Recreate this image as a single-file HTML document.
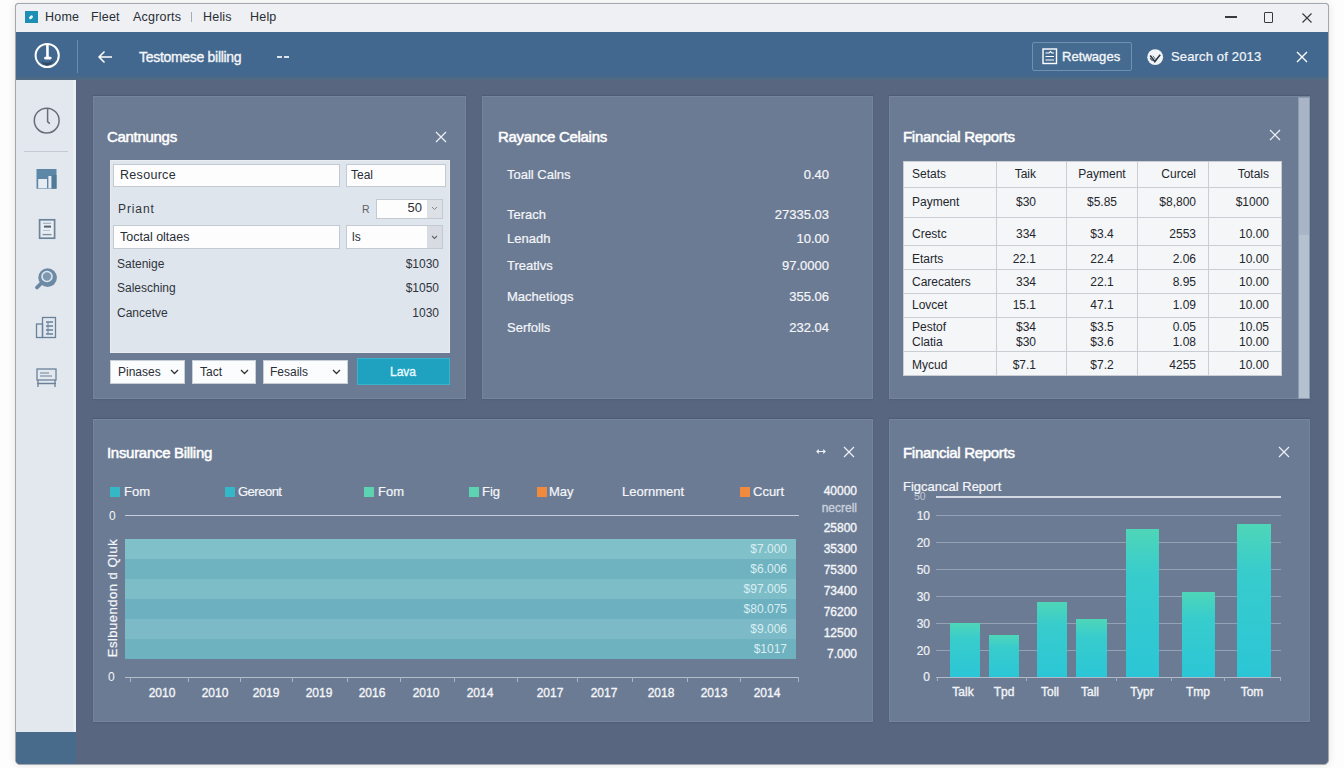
<!DOCTYPE html>
<html><head><meta charset="utf-8">
<style>
*{margin:0;padding:0;box-sizing:border-box}
html,body{width:1344px;height:768px;overflow:hidden;background:#fdfdfd;font-family:"Liberation Sans",sans-serif}
.a{position:absolute}
.t{position:absolute;white-space:nowrap;line-height:20px;height:20px}
#win{position:absolute;left:15px;top:3px;width:1314px;height:762px;border:1px solid #a2a7ad;border-radius:3px 3px 5px 5px;overflow:hidden;background:#58667f;box-shadow:0 0 8px rgba(0,0,0,0.10)}
#titlebar{left:0;top:0;width:1314px;height:28px;background:#eef0f3}
#header{left:0;top:28px;width:1314px;height:48px;background:linear-gradient(180deg,#42688f 0,#42688f 43px,#4a6b88 46px,#56677f 48px)}
#side{left:0;top:76px;width:60px;height:652px;background:#e3e8ef;border-right:3px solid #ebeff5}
#sidebot{left:0;top:728px;width:60px;height:34px;background:#486b8b}
.panel{position:absolute;background:#6c7b94;border:1px solid #76849c;box-shadow:0 -1px 1px rgba(40,50,70,0.18),0 1px 1px rgba(40,50,70,0.12)}
.ptitle{color:#fff;font-size:15px;letter-spacing:-0.3px;-webkit-text-stroke:0.5px #fff !important}
.wt{color:#f4f6f9}
.sb{-webkit-text-stroke:0.35px currentColor}
.dk{color:#2a2e35}
.dk2{color:#2f343c}
.f10{font-size:10px}.f12{font-size:12px}.f13{font-size:13px}
.inp{background:#fdfdfe;border:1px solid #c3cad3}
.btn{background:#fbfcfd;border:1px solid #c9d0d8}
.tb{border-collapse:collapse;background:#f5f6f8;font-size:12px;color:#23272d;table-layout:fixed}
.tb td{border:1px solid #c9ced5;padding:0 8px;white-space:nowrap;line-height:15px}
.tb td.r{text-align:right;padding-right:12px}
.tb td.r2{text-align:right;padding-right:30px}
.tb td.c{text-align:center}
.tb tr.p5 td{padding-top:5px}.tb tr.p3 td{padding-top:3px}.tb tr.p1 td{padding-top:1px}.tb tr.p4 td{padding-top:4px}
.lg{width:10px;height:10px}
.sb2{-webkit-text-stroke:0.2px currentColor}
.bv{width:100px;text-align:right;color:#d9eef2;font-size:12px}
.rl{left:757px;width:100px;text-align:right;color:#f4f6f9;font-size:12px;-webkit-text-stroke:0.35px currentColor}
.yr{top:682.5px;width:40px;text-align:center;color:#f4f6f9;font-size:12px;-webkit-text-stroke:0.35px currentColor}
.gl{left:936px;width:345px;height:1.3px;background:#95a2b5}
.yl{left:900px;width:30px;text-align:right;color:#eef1f5;font-size:12px;-webkit-text-stroke:0.2px currentColor}
.xl{top:682px;width:60px;text-align:center;color:#f2f5f8;font-size:12px;-webkit-text-stroke:0.35px currentColor}
.bar{background:linear-gradient(180deg,#4fd6b8 0%,#38cccc 30%,#2bc6d6 100%)}
.chev path{stroke:#333;stroke-width:1.3;fill:none}
</style></head><body>
<div id="win">
  <div class="a" id="titlebar"></div>
  <div class="a" id="header"></div>
  <div class="a" id="side"></div>
  <div class="a" id="sidebot"></div>
</div>

<!-- title bar -->
<div class="a" style="left:25px;top:11px;width:13px;height:12px;background:#1d8fb5"></div>
<svg class="a" style="left:25px;top:11px" width="13" height="12"><ellipse cx="6" cy="6.3" rx="2.2" ry="1.5" transform="rotate(-40 6 6.3)" fill="#e8f6fb"/></svg>
<div class="t dk" style="left:45px;top:7px;font-size:12.5px;letter-spacing:0.2px">Home</div>
<div class="t dk" style="left:91px;top:7px;font-size:12.5px;letter-spacing:0.2px">Fleet</div>
<div class="t dk" style="left:133px;top:7px;font-size:12.5px;letter-spacing:0.2px">Acgrorts</div>
<div class="a" style="left:191px;top:12px;width:1px;height:10px;background:#a6abb2"></div>
<div class="t dk" style="left:203px;top:7px;font-size:12.5px;letter-spacing:0.2px">Helis</div>
<div class="t dk" style="left:250px;top:7px;font-size:12.5px;letter-spacing:0.2px">Help</div>
<div class="a" style="left:1225px;top:16.3px;width:11.5px;height:1.6px;background:#3a3a3a"></div>
<div class="a" style="left:1263.7px;top:12px;width:9.8px;height:10.8px;border:1.3px solid #3a3a3a;border-radius:1px"></div>
<svg class="a" style="left:1302px;top:12.5px" width="10" height="10"><path d="M0.5 0.5L9.5 9.5M9.5 0.5L0.5 9.5" stroke="#3a3a3a" stroke-width="1.2"/></svg>

<!-- header -->
<svg class="a" style="left:33px;top:42px" width="29" height="29">
  <circle cx="14.2" cy="13.5" r="11.6" fill="none" stroke="#fff" stroke-width="2"/>
  <path d="M8.2 19.2Q14 22.5 20.2 18.8Q18.5 23.2 14 23.6Q10 23.2 8.2 19.2Z" fill="#2c4560" opacity="0.85"/>
  <path d="M14.4 2.5L14.5 15.5" stroke="#fff" stroke-width="2.6"/>
  <path d="M12.4 16.1H17.3" stroke="#fff" stroke-width="2.7" stroke-linecap="round"/>
</svg>
<div class="a" style="left:77px;top:40px;width:1px;height:33px;background:#6d8cad"></div>
<svg class="a" style="left:97px;top:50px" width="16" height="14"><path d="M15 7H2M7.5 1.5L2 7L7.5 12.5" stroke="#fff" stroke-width="1.5" fill="none"/></svg>
<div class="t wt sb" style="left:139px;top:47px;font-size:14px;letter-spacing:-0.3px">Testomese billing</div>
<div class="a" style="left:277px;top:56px;width:4.5px;height:1.5px;background:#dce5ee"></div><div class="a" style="left:284px;top:56px;width:4.5px;height:1.5px;background:#dce5ee"></div>
<div class="a" style="left:1032px;top:42px;width:100px;height:29px;border:1px solid #7190b0;background:#456b91;border-radius:2px"></div>
<svg class="a" style="left:1042px;top:48px" width="16" height="17"><rect x="1" y="1" width="13.5" height="14.5" fill="none" stroke="#fff" stroke-width="1.4"/><path d="M3.5 5H7L8.5 3.5L10 5H12M3.5 8.5H12M3.5 12H12" stroke="#fff" stroke-width="1.2" fill="none"/></svg>
<div class="t wt sb" style="left:1062px;top:47px;font-size:13px;letter-spacing:0.05px">Retwages</div>
<svg class="a" style="left:1147px;top:49px" width="18" height="18"><circle cx="8.2" cy="8.2" r="7.9" fill="#f2f5f8"/><path d="M3.2 6.5L7.8 12.6L13.2 5.8" stroke="#2f3b48" stroke-width="1.6" fill="none"/><path d="M3 9.2L5.6 12" stroke="#4a5968" stroke-width="1.1" fill="none"/><path d="M6 6.8L8.5 10.5" stroke="#5a6876" stroke-width="1" fill="none"/></svg>
<div class="t wt sb2" style="left:1171px;top:47px;font-size:13px;letter-spacing:0.15px">Search of 2013</div>
<svg class="a" style="left:1296px;top:51px" width="12" height="12"><path d="M1 1L11 11M11 1L1 11" stroke="#fff" stroke-width="1.4"/></svg>

<!-- sidebar icons -->
<svg class="a" style="left:32px;top:106px" width="30" height="30">
  <circle cx="14.7" cy="14.6" r="12.4" fill="none" stroke="#666e78" stroke-width="1.5"/>
  <path d="M15.6 2.5V15.6L17.8 17.6" stroke="#666e78" stroke-width="1.5" fill="none"/>
</svg>
<div class="a" style="left:24px;top:151px;width:44px;height:1px;background:#c3cad4"></div>
<svg class="a" style="left:36px;top:169px" width="21" height="20">
  <rect x="0.5" y="0" width="20" height="19.7" fill="#5d87a6"/>
  <rect x="15.5" y="6" width="5" height="13.7" fill="#4f7a98"/>
  <rect x="2.2" y="10" width="8.8" height="9.2" fill="#e6ecf2"/>
  <rect x="12.4" y="7" width="3" height="12.2" fill="#e6ecf2"/>
</svg>
<svg class="a" style="left:38px;top:218px" width="19" height="22">
  <rect x="1.6" y="1.8" width="15" height="18.4" fill="#e9eef3" stroke="#6d8398" stroke-width="1.7"/>
  <path d="M5 5.3H13" stroke="#9db0c2" stroke-width="1.2"/>
  <path d="M6 8.6H13" stroke="#4f6378" stroke-width="2"/>
  <path d="M5 12.5H12" stroke="#b7c4d1" stroke-width="1"/>
  <path d="M4.5 16.6H13.5" stroke="#7f93a6" stroke-width="1.4"/>
</svg>
<svg class="a" style="left:33px;top:265px" width="28" height="26">
  <path d="M9 17.5L4 22.5" stroke="#6a87a2" stroke-width="3.8" stroke-linecap="round"/>
  <circle cx="14.6" cy="12.6" r="9.3" fill="#6d8aa5"/>
  <circle cx="14" cy="11.5" r="5" fill="#7f98b0" stroke="#dce7ef" stroke-width="1.6"/>
</svg>
<svg class="a" style="left:35px;top:316px" width="23" height="23">
  <rect x="1.5" y="8" width="6" height="13.5" fill="none" stroke="#68819a" stroke-width="1.3"/>
  <rect x="7.5" y="1.5" width="13" height="20" fill="none" stroke="#68819a" stroke-width="1.3"/>
  <path d="M11 6H18M11 10H18M11 14H18M11 18H18" stroke="#68819a" stroke-width="1.3"/>
  <path d="M13 6V18" stroke="#68819a" stroke-width="1"/>
</svg>
<svg class="a" style="left:35px;top:367px" width="23" height="22">
  <rect x="2" y="2" width="19" height="11" fill="none" stroke="#6b8299" stroke-width="1.3"/>
  <path d="M5 6H14M5 9H17" stroke="#6b8299" stroke-width="1.2"/>
  <path d="M3 13V20M20 13V20M2 16.5H21" stroke="#6b8299" stroke-width="1.3"/>
</svg>

<!-- panels (page coords) -->
<div class="panel" style="left:93px;top:96px;width:373px;height:303px"></div>
<div class="panel" style="left:482px;top:96px;width:391px;height:303px"></div>
<div class="panel" style="left:889px;top:96px;width:421px;height:303px"></div>
<div class="panel" style="left:93px;top:419px;width:780px;height:303px"></div>
<div class="panel" style="left:889px;top:419px;width:421px;height:303px"></div>

<!-- P1 -->
<div class="t ptitle sb" style="left:107px;top:127px">Cantnungs</div>
<svg class="a" style="left:435px;top:131px" width="12" height="12"><path d="M1 1L11 11M11 1L1 11" stroke="#eef1f5" stroke-width="1.2"/></svg>
<div class="a" style="left:110px;top:160px;width:340px;height:193px;background:#dfe5ec;border:1px solid #e9edf2"></div>
<div class="a inp" style="left:113px;top:164px;width:227px;height:23px"></div>
<div class="t dk f12" style="left:120px;top:165px;font-size:12.5px;letter-spacing:0.3px">Resource</div>
<div class="a inp" style="left:346px;top:164px;width:100px;height:23px"></div>
<div class="t dk f12" style="left:351px;top:165px">Teal</div>
<div class="t dk2 f12" style="left:118px;top:199px;font-size:12px;letter-spacing:0.9px">Priant</div>
<div class="t f10" style="left:362px;top:199px;color:#5d636b;font-size:10.5px">R</div>
<div class="a inp" style="left:376px;top:199px;width:67px;height:20px"></div>
<div class="a" style="left:427px;top:200px;width:15px;height:18px;background:#dde1e6"></div>
<div class="t dk f13" style="left:376px;top:198px;width:46px;text-align:right">50</div>
<svg class="a" style="left:431px;top:206px" width="7" height="5"><path d="M1 1L3.5 3.5L6 1" stroke="#888" stroke-width="1" fill="none"/></svg>
<div class="a inp" style="left:113px;top:225px;width:227px;height:24px"></div>
<div class="t dk f12" style="left:120px;top:227px;font-size:12.5px;letter-spacing:0px">Toctal oltaes</div>
<div class="a inp" style="left:346px;top:225px;width:97px;height:24px"></div>
<div class="a" style="left:427px;top:226px;width:15px;height:22px;background:#d8dce2"></div>
<div class="t dk f12" style="left:352px;top:227px">ls</div>
<svg class="a" style="left:431px;top:235px" width="7" height="5"><path d="M1 1L3.5 3.5L6 1" stroke="#666" stroke-width="1.1" fill="none"/></svg>
<div class="t dk2 f12" style="left:117px;top:254px">Satenige</div>
<div class="t dk2 f12" style="left:380px;top:254px;width:59px;text-align:right">$1030</div>
<div class="t dk2 f12" style="left:117px;top:278px">Salesching</div>
<div class="t dk2 f12" style="left:380px;top:278px;width:59px;text-align:right">$1050</div>
<div class="t dk2 f12" style="left:117px;top:303px">Cancetve</div>
<div class="t dk2 f12" style="left:380px;top:303px;width:59px;text-align:right">1030</div>
<div class="a btn" style="left:110px;top:360px;width:75px;height:24px"></div>
<div class="t dk f12" style="left:118px;top:362px">Pinases</div>
<svg class="a chev" style="left:170px;top:369px" width="9" height="6"><path d="M1 1L4.5 4.5L8 1"/></svg>
<div class="a btn" style="left:192px;top:360px;width:64px;height:24px"></div>
<div class="t dk f12" style="left:200px;top:362px">Tact</div>
<div class="a btn" style="left:263px;top:360px;width:85px;height:24px"></div>
<svg class="a chev" style="left:240px;top:369px" width="9" height="6"><path d="M1 1L4.5 4.5L8 1"/></svg>
<div class="t dk f12" style="left:270px;top:362px">Fesails</div>
<svg class="a chev" style="left:332px;top:369px" width="9" height="6"><path d="M1 1L4.5 4.5L8 1"/></svg>
<div class="a" style="left:357px;top:358px;width:93px;height:27px;background:#1ea2bf;border:1px solid #3bb2cc"></div>
<div class="t f12 sb" style="left:357px;top:362px;width:92px;text-align:center;color:#eafaff">Lava</div>

<!-- P2 -->
<div class="t ptitle sb" style="left:498px;top:127px">Rayance Celains</div>
<div class="t wt f13 sb2" style="left:507px;top:165px">Toall Calns</div>
<div class="t wt f13 sb2" style="left:729px;top:165px;width:100px;text-align:right">0.40</div>
<div class="t wt f13 sb2" style="left:507px;top:205px">Terach</div>
<div class="t wt f13 sb2" style="left:729px;top:205px;width:100px;text-align:right">27335.03</div>
<div class="t wt f13 sb2" style="left:507px;top:229px">Lenadh</div>
<div class="t wt f13 sb2" style="left:729px;top:229px;width:100px;text-align:right">10.00</div>
<div class="t wt f13 sb2" style="left:507px;top:256px">Treatlvs</div>
<div class="t wt f13 sb2" style="left:729px;top:256px;width:100px;text-align:right">97.0000</div>
<div class="t wt f13 sb2" style="left:507px;top:287px">Machetiogs</div>
<div class="t wt f13 sb2" style="left:729px;top:287px;width:100px;text-align:right">355.06</div>
<div class="t wt f13 sb2" style="left:507px;top:318px">Serfolls</div>
<div class="t wt f13 sb2" style="left:729px;top:318px;width:100px;text-align:right">232.04</div>

<!-- P3 -->
<div class="t ptitle sb" style="left:903px;top:127px">Financial Reports</div>
<svg class="a" style="left:1269px;top:129px" width="12" height="12"><path d="M1 1L11 11M11 1L1 11" stroke="#eef1f5" stroke-width="1.2"/></svg>
<div class="a" style="left:1298px;top:97px;width:12px;height:302px;background:#8d9bb0"></div>
<div class="a" style="left:1299px;top:98px;width:10px;height:137px;background:#a9b5c6"></div>
<div class="a" style="left:1299px;top:235px;width:10px;height:163px;background:#b6c1d0"></div>
<table class="a tb" style="left:903px;top:161px;width:378px;height:215px"><colgroup><col style="width:93px"><col style="width:70px"><col style="width:71px"><col style="width:71px"><col style="width:73px"></colgroup>
<tr style="height:26px"><td>Setats</td><td class="r2">Taik</td><td class="c">Payment</td><td class="r">Curcel</td><td class="r">Totals</td></tr>
<tr style="height:30px"><td>Payment</td><td class="r2">$30</td><td class="c">$5.85</td><td class="r">$8,800</td><td class="r">$1000</td></tr>
<tr style="height:28px" class="p5"><td>Crestc</td><td class="r2">334</td><td class="c">$3.4</td><td class="r">2553</td><td class="r">10.00</td></tr>
<tr style="height:24px" class="p3"><td>Etarts</td><td class="r2">22.1</td><td class="c">22.4</td><td class="r">2.06</td><td class="r">10.00</td></tr>
<tr style="height:24px" class="p1"><td>Carecaters</td><td class="r2">334</td><td class="c">22.1</td><td class="r">8.95</td><td class="r">10.00</td></tr>
<tr style="height:24px"><td>Lovcet</td><td class="r2">15.1</td><td class="c">47.1</td><td class="r">1.09</td><td class="r">10.00</td></tr>
<tr style="height:34px" class="dbl"><td>Pestof<br>Clatia</td><td class="r2">$34<br>$30</td><td class="c">$3.5<br>$3.6</td><td class="r">0.05<br>1.08</td><td class="r">10.05<br>10.00</td></tr>
<tr style="height:24px" class="p4"><td>Mycud</td><td class="r2">$7.1</td><td class="c">$7.2</td><td class="r">4255</td><td class="r">10.00</td></tr>
</table>

<!-- P4 -->
<div class="t ptitle sb" style="left:107px;top:443px">Insurance Billing</div>
<svg class="a" style="left:815px;top:448px" width="12" height="7"><path d="M2 3.5H10M3.8 1.7L2 3.5L3.8 5.3M8.2 1.7L10 3.5L8.2 5.3" stroke="#eef2f6" stroke-width="1.2" fill="none"/></svg>
<svg class="a" style="left:843px;top:446px" width="12" height="12"><path d="M1 1L11 11M11 1L1 11" stroke="#eef1f5" stroke-width="1.2"/></svg>
<div class="a lg" style="left:110px;top:487px;background:#34b7c7"></div><div class="t wt f13 sb2" style="left:124px;top:482px">Fom</div>
<div class="a lg" style="left:225px;top:487px;background:#34b7c7"></div><div class="t wt f13 sb2" style="left:238px;top:482px;letter-spacing:-0.5px">Gereont</div>
<div class="a lg" style="left:364px;top:487px;background:#5ed3b2"></div><div class="t wt f13 sb2" style="left:378px;top:482px">Fom</div>
<div class="a lg" style="left:469px;top:487px;background:#5ed3b2"></div><div class="t wt f13 sb2" style="left:482px;top:482px">Fig</div>
<div class="a lg" style="left:537px;top:487px;background:#f08a3c"></div><div class="t wt f13 sb2" style="left:549px;top:482px">May</div>
<div class="t wt f13 sb2" style="left:622px;top:482px">Leornment</div>
<div class="a lg" style="left:740px;top:487px;background:#f08a3c"></div><div class="t wt f13 sb2" style="left:753px;top:482px">Ccurt</div>
<div class="t wt f12" style="left:109px;top:506px">0</div>
<div class="a" style="left:125px;top:515px;width:674px;height:1px;background:#c5cdd8"></div>
<div class="a" style="left:125px;top:539px;width:671px;height:20px;background:#80c0c8"></div>
<div class="a" style="left:125px;top:559px;width:671px;height:20px;background:#6fb2c0"></div>
<div class="a" style="left:125px;top:579px;width:671px;height:20px;background:#7dbdc8"></div>
<div class="a" style="left:125px;top:599px;width:671px;height:20px;background:#6db0bf"></div>
<div class="a" style="left:125px;top:619px;width:671px;height:20px;background:#7bbac6"></div>
<div class="a" style="left:125px;top:639px;width:671px;height:20px;background:#6eb1bf"></div>
<div class="t bv" style="left:687px;top:539px">$7.000</div>
<div class="t bv" style="left:687px;top:559px">$6.006</div>
<div class="t bv" style="left:687px;top:579px">$97.005</div>
<div class="t bv" style="left:687px;top:599px">$80.075</div>
<div class="t bv" style="left:687px;top:619px">$9.006</div>
<div class="t bv" style="left:687px;top:639px">$1017</div>
<div class="t rl" style="top:481px">40000</div>
<div class="t rl" style="top:498px;color:#c9d1dc">necrell</div>
<div class="t rl" style="top:518px">25800</div>
<div class="t rl" style="top:539px">35300</div>
<div class="t rl" style="top:560px">75300</div>
<div class="t rl" style="top:581px">73400</div>
<div class="t rl" style="top:602px">76200</div>
<div class="t rl" style="top:623px">12500</div>
<div class="t rl" style="top:644px">7.000</div>
<div class="a" style="left:103px;top:536px;width:20px;height:124px;overflow:hidden"><div class="a wt f12 sb2" style="left:-52px;top:52px;width:124px;height:20px;line-height:20px;text-align:center;transform:rotate(-90deg);font-size:13px;letter-spacing:0.5px">Eslbuendon d Qluk</div></div>
<div class="t wt f12" style="left:108px;top:667px">0</div>
<div class="a" style="left:125px;top:677px;width:674px;height:1.2px;background:#b3bdcb"></div>
<div class="a" style="left:130px;top:677px;width:1px;height:5px;background:#aab5c4"></div><div class="a" style="left:188px;top:677px;width:1px;height:5px;background:#aab5c4"></div><div class="a" style="left:240px;top:677px;width:1px;height:5px;background:#aab5c4"></div><div class="a" style="left:292px;top:677px;width:1px;height:5px;background:#aab5c4"></div><div class="a" style="left:347px;top:677px;width:1px;height:5px;background:#aab5c4"></div><div class="a" style="left:400px;top:677px;width:1px;height:5px;background:#aab5c4"></div><div class="a" style="left:454px;top:677px;width:1px;height:5px;background:#aab5c4"></div><div class="a" style="left:517px;top:677px;width:1px;height:5px;background:#aab5c4"></div><div class="a" style="left:577px;top:677px;width:1px;height:5px;background:#aab5c4"></div><div class="a" style="left:632px;top:677px;width:1px;height:5px;background:#aab5c4"></div><div class="a" style="left:687px;top:677px;width:1px;height:5px;background:#aab5c4"></div><div class="a" style="left:740px;top:677px;width:1px;height:5px;background:#aab5c4"></div><div class="a" style="left:798px;top:677px;width:1px;height:5px;background:#aab5c4"></div>
<div class="t yr" style="left:142px">2010</div>
<div class="t yr" style="left:195px">2010</div>
<div class="t yr" style="left:246px">2019</div>
<div class="t yr" style="left:299px">2019</div>
<div class="t yr" style="left:352px">2016</div>
<div class="t yr" style="left:406px">2010</div>
<div class="t yr" style="left:460px">2014</div>
<div class="t yr" style="left:530px">2017</div>
<div class="t yr" style="left:584px">2017</div>
<div class="t yr" style="left:641px">2018</div>
<div class="t yr" style="left:694px">2013</div>
<div class="t yr" style="left:747px">2014</div>

<!-- P5 -->
<div class="t ptitle sb" style="left:903px;top:443px">Financial Reports</div>
<svg class="a" style="left:1278px;top:446px" width="12" height="12"><path d="M1 1L11 11M11 1L1 11" stroke="#eef1f5" stroke-width="1.2"/></svg>
<div class="t" style="left:914px;top:486px;font-size:10.5px;color:rgba(245,248,250,0.6)">50</div>
<div class="t wt f13 sb2" style="left:903px;top:477px">Figcancal Report</div>
<div class="a" style="left:936px;top:496px;width:345px;height:1.5px;background:#d3d9e2"></div>
<div class="a gl" style="top:515px"></div>
<div class="a gl" style="top:542px"></div>
<div class="a gl" style="top:569px"></div>
<div class="a gl" style="top:596px"></div>
<div class="a gl" style="top:623px"></div>
<div class="a gl" style="top:650px"></div>
<div class="a gl" style="top:677px;background:#b1bbc9"></div><div class="a" style="left:937px;top:677px;width:1px;height:4px;background:#a3aebe"></div><div class="a" style="left:1026px;top:677px;width:1px;height:4px;background:#a3aebe"></div><div class="a" style="left:1116px;top:677px;width:1px;height:4px;background:#a3aebe"></div><div class="a" style="left:1171px;top:677px;width:1px;height:4px;background:#a3aebe"></div><div class="a" style="left:1224px;top:677px;width:1px;height:4px;background:#a3aebe"></div><div class="a" style="left:1280px;top:677px;width:1px;height:4px;background:#a3aebe"></div>
<div class="t yl" style="top:506px">10</div>
<div class="t yl" style="top:533px">20</div>
<div class="t yl" style="top:560px">50</div>
<div class="t yl" style="top:587px">30</div>
<div class="t yl" style="top:614px">30</div>
<div class="t yl" style="top:641px">20</div>
<div class="t yl" style="top:667px">0</div>
<div class="a bar" style="left:950px;top:623px;width:30px;height:54px"></div>
<div class="a bar" style="left:989px;top:635px;width:30px;height:42px"></div>
<div class="a bar" style="left:1037px;top:602px;width:30px;height:75px"></div>
<div class="a bar" style="left:1076px;top:619px;width:31px;height:58px"></div>
<div class="a bar" style="left:1126px;top:529px;width:33px;height:148px"></div>
<div class="a bar" style="left:1182px;top:592px;width:33px;height:85px"></div>
<div class="a bar" style="left:1237px;top:524px;width:34px;height:153px"></div>
<div class="t xl" style="left:933px">Talk</div>
<div class="t xl" style="left:974px">Tpd</div>
<div class="t xl" style="left:1020px">Toll</div>
<div class="t xl" style="left:1060px">Tall</div>
<div class="t xl" style="left:1112px">Typr</div>
<div class="t xl" style="left:1168px">Tmp</div>
<div class="t xl" style="left:1222px">Tom</div>

</body></html>
